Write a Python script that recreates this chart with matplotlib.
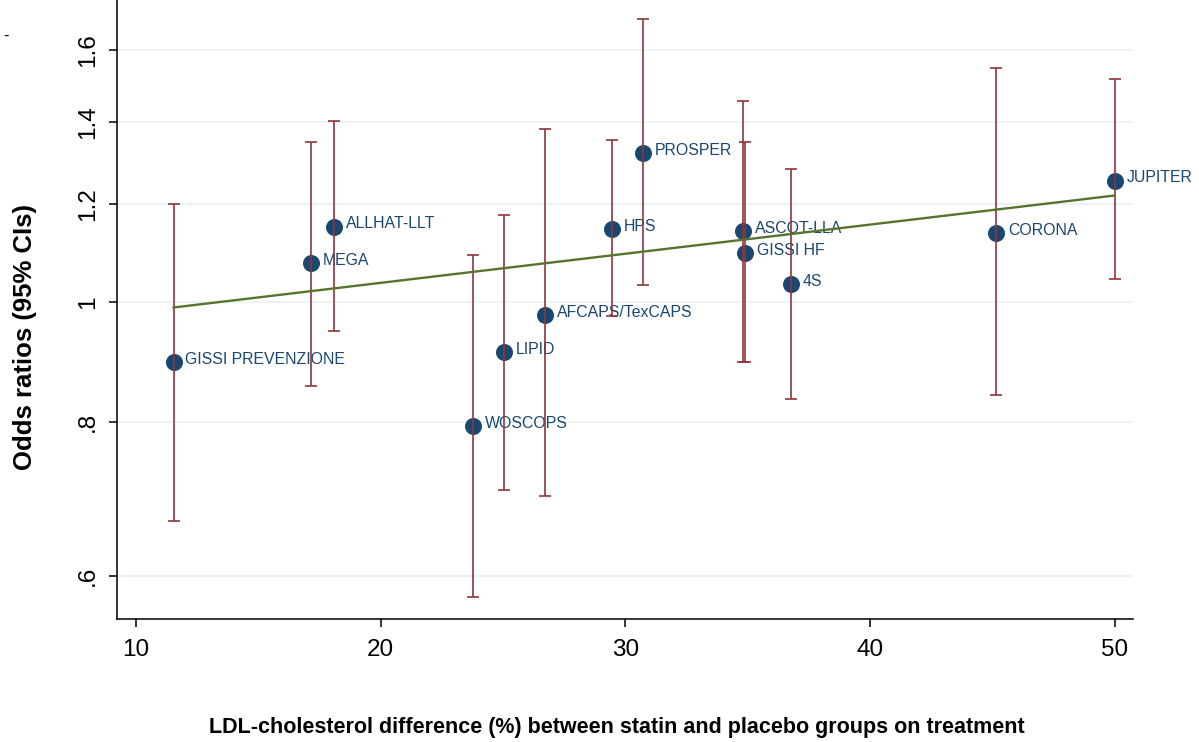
import numpy as np
import matplotlib
matplotlib.use("Agg")
import matplotlib.pyplot as plt
from matplotlib.ticker import FixedLocator, FixedFormatter, NullLocator

# Datos
ensayos = ["GISSI PREVENZIONE", "MEGA", "ALLHAT-LLT", "WOSCOPS", "LIPID",
           "AFCAPS/TexCAPS", "HPS", "PROSPER", "ASCOT-LLA", "GISSI HF",
           "4S", "CORONA", "JUPITER"]
ldl_dif = [11.54, 17.16, 18.10, 23.76, 25.04, 26.73, 29.45, 30.73, 34.80,
           34.90, 36.75, 45.14, 50.0]
odds = [0.894, 1.075, 1.151, 0.793, 0.911, 0.976, 1.146, 1.321, 1.142,
        1.095, 1.034, 1.137, 1.254]
ic_inf = [0.665, 0.855, 0.948, 0.577, 0.705, 0.696, 0.975, 1.032, 0.894,
          0.894, 0.834, 0.841, 1.044]
ic_sup = [1.200, 1.347, 1.402, 1.092, 1.176, 1.381, 1.352, 1.694, 1.455,
          1.347, 1.282, 1.548, 1.517]

# recta de meta-regresion (extremos)
recta_x = [11.54, 50.0]
recta_or = [0.990, 1.220]

ticks_y = [0.6, 0.8, 1.0, 1.2, 1.4, 1.6]
etiquetas_y = [".6", ".8", "1", "1.2", "1.4", "1.6"]
ticks_x = [10, 20, 30, 40, 50]

azul = "#1a476f"
granate = "#90353b"
oliva = "#55752f"
rejilla = "#eaf2f3"

fuente = ["Liberation Sans", "DejaVu Sans"]

fig = plt.figure(figsize=(11.99, 7.42), dpi=100)
ax = fig.add_axes([0.0978, 0.1654, 0.8474, 0.8346])

ax.set_yscale("log")
ax.set_xlim(9.236, 50.75)
ax.set_ylim(0.5535, 1.7566)

for v in ticks_y:
    ax.axhline(v, color=rejilla, lw=1.3, zorder=0)

x = np.array(ldl_dif)
y = np.array(odds)
err = [y - np.array(ic_inf), np.array(ic_sup) - y]

ax.scatter(x, y, s=150, color=azul, zorder=2, linewidths=0)
for nombre, xi, yi in zip(ensayos, ldl_dif, odds):
    ax.annotate(nombre, (xi, yi), xytext=(8.5, 2), textcoords="offset points",
                ha="left", va="center", fontsize=11.4, color=azul,
                family=fuente, zorder=2.5)

ax.errorbar(x, y, yerr=err, fmt="none", ecolor=granate, elinewidth=1.2,
            capsize=4.6, capthick=1.2, zorder=3)

ax.plot(recta_x, recta_or, color=oliva, lw=1.7, zorder=4)

ax.yaxis.set_major_locator(FixedLocator(ticks_y))
ax.yaxis.set_major_formatter(FixedFormatter(etiquetas_y))
ax.yaxis.set_minor_locator(NullLocator())
ax.set_xticks(ticks_x)

for lbl in ax.get_yticklabels():
    lbl.set_rotation(90)
    lbl.set_va("center")
    lbl.set_family(fuente)
for lbl in ax.get_xticklabels():
    lbl.set_family(fuente)

ax.tick_params(axis="both", labelsize=17.5, length=6, width=1.1, color="black")
ax.tick_params(axis="y", pad=7)
ax.tick_params(axis="x", pad=8)

ax.spines["top"].set_visible(False)
ax.spines["right"].set_visible(False)
ax.spines["left"].set_linewidth(1.1)
ax.spines["bottom"].set_linewidth(1.1)

ax.set_xlabel("LDL-cholesterol difference (%) between statin and placebo groups on treatment",
              fontsize=15.5, fontweight="bold", family=fuente, va="center")
ax.xaxis.set_label_coords(0.492, -0.174)
ax.set_ylabel("Odds ratios (95% CIs)", fontsize=18.5, fontweight="bold",
              family=fuente)
ax.yaxis.set_label_coords(-0.079, 0.456)

fig.text(0.003, 1 - 36 / 742, "-", fontsize=12, family=fuente, va="center")

fig.savefig("out.png", dpi=100)
